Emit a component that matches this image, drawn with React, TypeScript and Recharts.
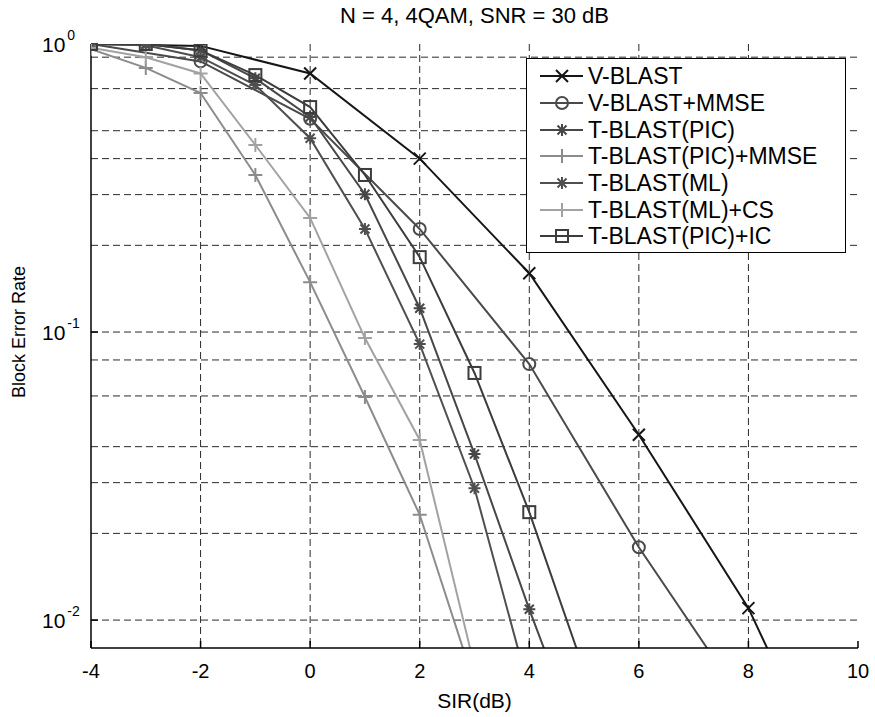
import React from "react"
import { LineChart, Line, XAxis, YAxis, CartesianGrid, Legend } from "recharts"

// SIR in dB, one row per integer step
const sir = [-4, -3, -2, -1, 0, 1, 2, 3, 4, 5, 6, 7, 8, 9, 10]

// block error rates (null = no point at that SIR)
const vBlast = [1.0, null, 0.985, null, 0.79, null, 0.4, null, 0.16, null, 0.044, null, 0.011, null, 0.0017]
const vBlastMmse = [1.0, null, 0.87, null, 0.55, null, 0.228, null, 0.0774, null, 0.0179, null, 0.0049]
const tPic = [1.0, 1.0, 0.95, 0.76, 0.558, 0.301, 0.121, 0.0377, 0.0109, 0.0034]
const tPicMmse = [0.96, 0.826, 0.676, 0.351, 0.149, 0.0595, 0.0232, 0.006]
const tMl = [1.0, 0.99, 0.9, 0.72, 0.471, 0.228, 0.0908, 0.0287, 0.0057]
const tMlCs = [0.97, 0.9, 0.79, 0.446, 0.249, 0.0953, 0.0422, 0.0069]
const tPicIc = [1.0, 1.0, 0.95, 0.78, 0.604, 0.351, 0.182, 0.0721, 0.0237, 0.0067]

const xTicks = [-4, -2, 0, 2, 4, 6, 8, 10]
const yTicks = [0.01, 0.1, 1]
const yTickExp = ["-2", "-1", "0"]
const yGrid = [0.009, 0.01, 0.02, 0.03, 0.04, 0.05, 0.06, 0.07, 0.08, 0.09, 0.1, 0.2, 0.3, 0.4, 0.5, 0.6, 0.7, 0.8, 0.9]
const xGrid = [-2, 0, 2, 4, 6, 8]

const series = [
  { key: "vBlast", name: "V-BLAST", color: "#161616", marker: "x", values: vBlast },
  { key: "vBlastMmse", name: "V-BLAST+MMSE", color: "#4a4a4a", marker: "o", values: vBlastMmse },
  { key: "tPic", name: "T-BLAST(PIC)", color: "#474747", marker: "*", values: tPic },
  { key: "tPicMmse", name: "T-BLAST(PIC)+MMSE", color: "#8c8c8c", marker: "+", values: tPicMmse },
  { key: "tMl", name: "T-BLAST(ML)", color: "#4f4f4f", marker: "*", values: tMl },
  { key: "tMlCs", name: "T-BLAST(ML)+CS", color: "#a2a2a2", marker: "+", values: tMlCs },
  { key: "tPicIc", name: "T-BLAST(PIC)+IC", color: "#3c3c3c", marker: "s", values: tPicIc },
]

const data = sir.map((s, i) => {
  const row: Record<string, number | null> = { sir: s }
  series.forEach(sr => {
    const v = sr.values[i]
    row[sr.key] = v == null ? null : v
  })
  return row
})

const FONT = "'Liberation Sans', Arial, Helvetica, sans-serif"
const AXIS = { stroke: "#000", strokeWidth: 1.5 }

function Marker({ kind, cx, cy, color }: { kind: string; cx: number; cy: number; color: string }) {
  const r = 6
  if (kind === "x") {
    return <path d={`M${cx - r},${cy - r}L${cx + r},${cy + r}M${cx - r},${cy + r}L${cx + r},${cy - r}`} stroke={color} strokeWidth={2} fill="none" />
  }
  if (kind === "o") {
    return <circle cx={cx} cy={cy} r={r} stroke={color} strokeWidth={2} fill="none" />
  }
  if (kind === "+") {
    const p = 7
    return <path d={`M${cx - p},${cy}L${cx + p},${cy}M${cx},${cy - p}L${cx},${cy + p}`} stroke={color} strokeWidth={2} fill="none" />
  }
  if (kind === "*") {
    const d = 4.5
    return (
      <path
        d={`M${cx - r},${cy}L${cx + r},${cy}M${cx},${cy - r}L${cx},${cy + r}M${cx - d},${cy - d}L${cx + d},${cy + d}M${cx - d},${cy + d}L${cx + d},${cy - d}`}
        stroke={color} strokeWidth={2} fill="none"
      />
    )
  }
  return <rect x={cx - r} y={cy - r} width={2 * r} height={2 * r} stroke={color} strokeWidth={2} fill="none" />
}

const makeDot = (kind: string, color: string) => (props: any) => {
  const { cx, cy, key, value } = props
  if (cx == null || cy == null || value == null || Number.isNaN(cy)) return <g key={key} />
  return <g key={key}><Marker kind={kind} cx={cx} cy={cy} color={color} /></g>
}

function YTick(props: any) {
  const { y, payload } = props
  const i = yTicks.indexOf(payload.value)
  return (
    <text x={42} y={y + 8} fontFamily={FONT} fontSize={21} fill="#000">
      <tspan>10</tspan>
      <tspan dx={2} dy={-12} fontSize={14}>{yTickExp[i]}</tspan>
    </text>
  )
}

function LegendBox() {
  return (
    <div style={{
      width: 318, height: 189, border: "1px solid #000", background: "#fff",
      fontFamily: FONT, fontSize: 23, color: "#000", boxSizing: "content-box",
      paddingTop: 4,
    }}>
      {series.map(sr => (
        <div key={sr.key} style={{ display: "flex", alignItems: "center", height: 26.7 }}>
          <svg width={60} height={26} style={{ flex: "none" }}>
            <line x1={13} x2={56} y1={13} y2={13} stroke={sr.color} strokeWidth={2} />
            <Marker kind={sr.marker} cx={35} cy={13} color={sr.color} />
          </svg>
          <span style={{ marginLeft: 1, whiteSpace: "nowrap", lineHeight: "26px" }}>{sr.name}</span>
        </div>
      ))}
    </div>
  )
}

export default function App() {
  return (
    <div style={{ position: "absolute", left: 0, top: 0, width: 875, height: 717, background: "#fff" }}>
      <div style={{
        position: "absolute", left: 91, top: 3, width: 767, textAlign: "center",
        fontFamily: FONT, fontSize: 22, color: "#000",
      }}>
        N = 4, 4QAM, SNR = 30 dB
      </div>
      <LineChart
        width={875}
        height={717}
        data={data}
        margin={{ top: 44, right: 17, left: 31, bottom: 39 }}
      >
        <CartesianGrid
          stroke="#2a2a2a"
          strokeDasharray="7 4"
          horizontalValues={yGrid}
          verticalValues={xGrid}
        />
        <XAxis
          dataKey="sir"
          type="number"
          domain={[-4, 10]}
          ticks={xTicks}
          allowDataOverflow
          height={30}
          tickLine={AXIS}
          tickSize={-7}
          tickMargin={23}
          axisLine={AXIS}
          tick={{ fontSize: 20, fill: "#000", fontFamily: FONT }}
          label={({ viewBox }: any) => (
            <text x={viewBox.x + viewBox.width / 2} y={708} textAnchor="middle" fontFamily={FONT} fontSize={21} fill="#000">
              SIR(dB)
            </text>
          )}
        />
        <XAxis
          xAxisId="top"
          orientation="top"
          type="number"
          domain={[-4, 10]}
          ticks={xTicks}
          height={0}
          tick={false}
          tickLine={AXIS}
          tickSize={-7}
          axisLine={AXIS}
        />
        <YAxis
          scale="log"
          type="number"
          domain={[0.008, 1]}
          ticks={yTicks}
          allowDataOverflow
          width={60}
          tickLine={AXIS}
          tickSize={-7}
          axisLine={AXIS}
          tick={<YTick />}
          label={({ viewBox }: any) => (
            <text
              transform={`translate(${viewBox.x - 6},${viewBox.y + viewBox.height / 2 - 14}) rotate(-90)`}
              textAnchor="middle" fontFamily={FONT} fontSize={18} fill="#000"
            >
              Block Error Rate
            </text>
          )}
        />
        <YAxis
          yAxisId="right"
          orientation="right"
          scale="log"
          type="number"
          domain={[0.008, 1]}
          ticks={yTicks}
          allowDataOverflow
          width={0}
          tick={false}
          tickLine={AXIS}
          tickSize={-7}
          axisLine={AXIS}
        />
        <Legend
          layout="vertical"
          align="center"
          verticalAlign="middle"
          wrapperStyle={{ position: "absolute", left: 526, top: 58, width: 320 }}
          content={() => <LegendBox />}
        />
        {series.map(sr => (
          <Line
            key={sr.key}
            type="linear"
            dataKey={sr.key}
            name={sr.name}
            stroke={sr.color}
            strokeWidth={2}
            connectNulls
            dot={makeDot(sr.marker, sr.color)}
            activeDot={false}
            isAnimationActive={false}
          />
        ))}
      </LineChart>
    </div>
  )
}
